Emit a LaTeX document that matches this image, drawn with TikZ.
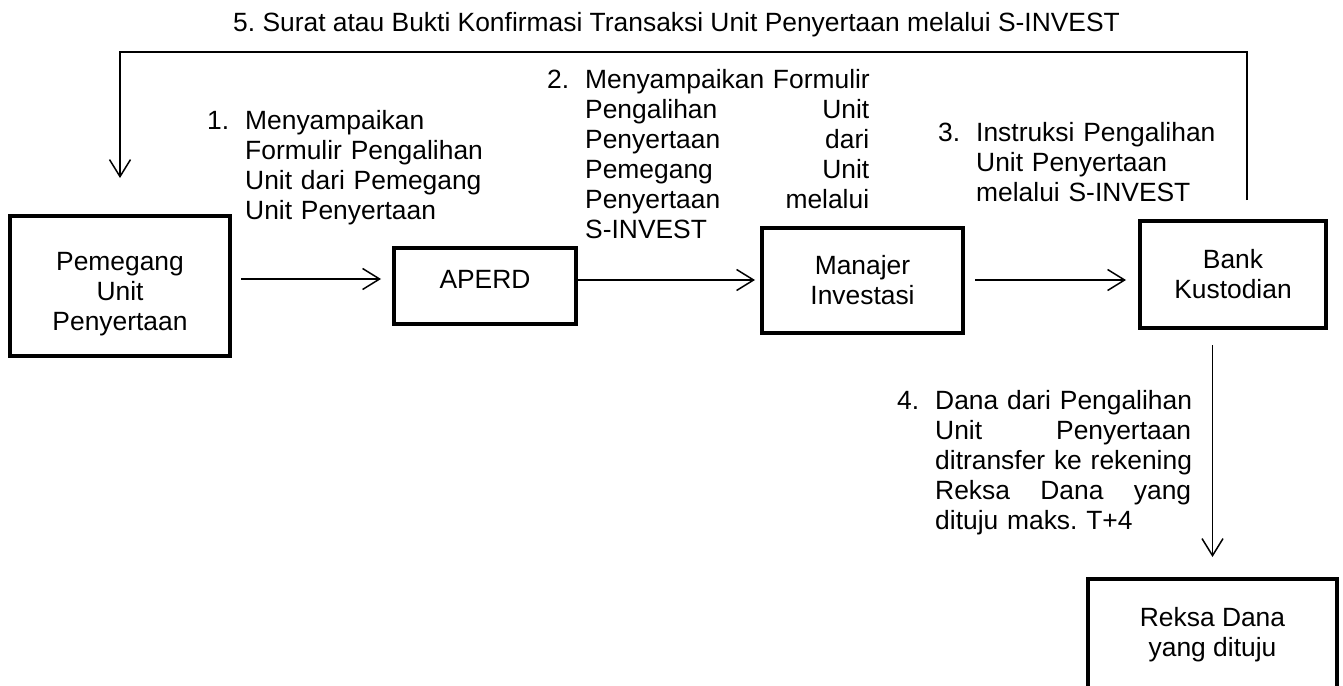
\documentclass[tikz,border=0pt]{standalone}
\usepackage{fontspec}
\setmainfont{Liberation Sans}
\usetikzlibrary{arrows.meta}
\frenchspacing
\newlength{\numwd}
\setlength{\numwd}{38pt}
\newcommand{\lblnum}[1]{\makebox[\numwd][l]{#1}}
\newcommand{\numind}{\hspace*{\numwd}}
\begin{document}
\begin{tikzpicture}[x=1pt, y=-1pt, every node/.style={font=\fontsize{26.4}{30}\selectfont}, box/.style={draw, line width=4pt, inner sep=0pt, align=center}, lbl/.style={anchor=north west, inner sep=0pt, align=left}, flow/.style={line width=1.5pt, -{Straight Barb[length=17pt, width=21pt]}}]
  \useasboundingbox (0,0) rectangle (1343,685);
  \node[box, minimum width=220pt, minimum height=140pt] (pemegang) at (120,286) {\rule{0pt}{35pt}Pemegang\\Unit\\Penyertaan};
  \node[box, minimum width=182pt, minimum height=76pt] (aperd) at (485,286) {\rule[-14pt]{0pt}{14pt}APERD};
  \node[box, minimum width=201pt, minimum height=105pt] (manajer) at (862.5,280.5) {Manajer\\Investasi};
  \node[box, minimum width=186pt, minimum height=107pt] (bank) at (1233,274.5) {Bank\\Kustodian};
  \node[box, minimum width=249pt, minimum height=112pt, anchor=north] (reksa) at (1212.5,577) {Reksa Dana\\yang dituju};
  \node[anchor=base west, inner sep=0pt] (konfirmasi) at (233,32) {5. Surat atau Bukti Konfirmasi Transaksi Unit Penyertaan melalui S-INVEST};
  \node[lbl, text width=300pt] (lbl1) at (207,110) {\lblnum{1.}Menyampaikan\\ \numind Formulir Pengalihan\\ \numind Unit dari Pemegang\\ \numind Unit Penyertaan};
  \node[lbl, text width=322pt] (lbl2) at (547,69) {\lblnum{2.}\mbox{Menyampaikan Formulir}\\ \numind Pengalihan\hfill Unit\\ \numind Penyertaan\hfill dari\\ \numind Pemegang\hfill Unit\\ \numind Penyertaan\hfill melalui\\ \numind S-INVEST};
  \node[lbl, text width=300pt] (lbl3) at (938,122) {\lblnum{3.}Instruksi Pengalihan\\ \numind Unit Penyertaan\\ \numind melalui S-INVEST};
  \node[lbl, text width=294pt] (lbl4) at (897,390) {\lblnum{4.}\mbox{Dana dari Pengalihan}\\ \numind Unit\hfill Penyertaan\\ \numind \mbox{ditransfer ke rekening}\\ \numind Reksa\hfill Dana\hfill yang\\ \numind dituju maks. T+4};
  \draw[flow, shorten <=9pt, shorten >=11pt] (pemegang.east |- 0,279) -- (aperd.west |- 0,279);
  \draw[flow, shorten >=5pt] (aperd.east |- 0,280) -- (manajer.west |- 0,280);
  \draw[flow, shorten <=10pt, shorten >=12pt] (manajer.east |- 0,280) -- (bank.west |- 0,280);
  \draw[flow, shorten <=15pt, shorten >=20pt] (reksa.north |- bank.south) -- (reksa.north);
  \draw[flow, shorten <=19pt, shorten >=36pt] (bank.north -| 1247,0) |- (pemegang.north |- 0,52) -- (pemegang.north);
\end{tikzpicture}
\end{document}
